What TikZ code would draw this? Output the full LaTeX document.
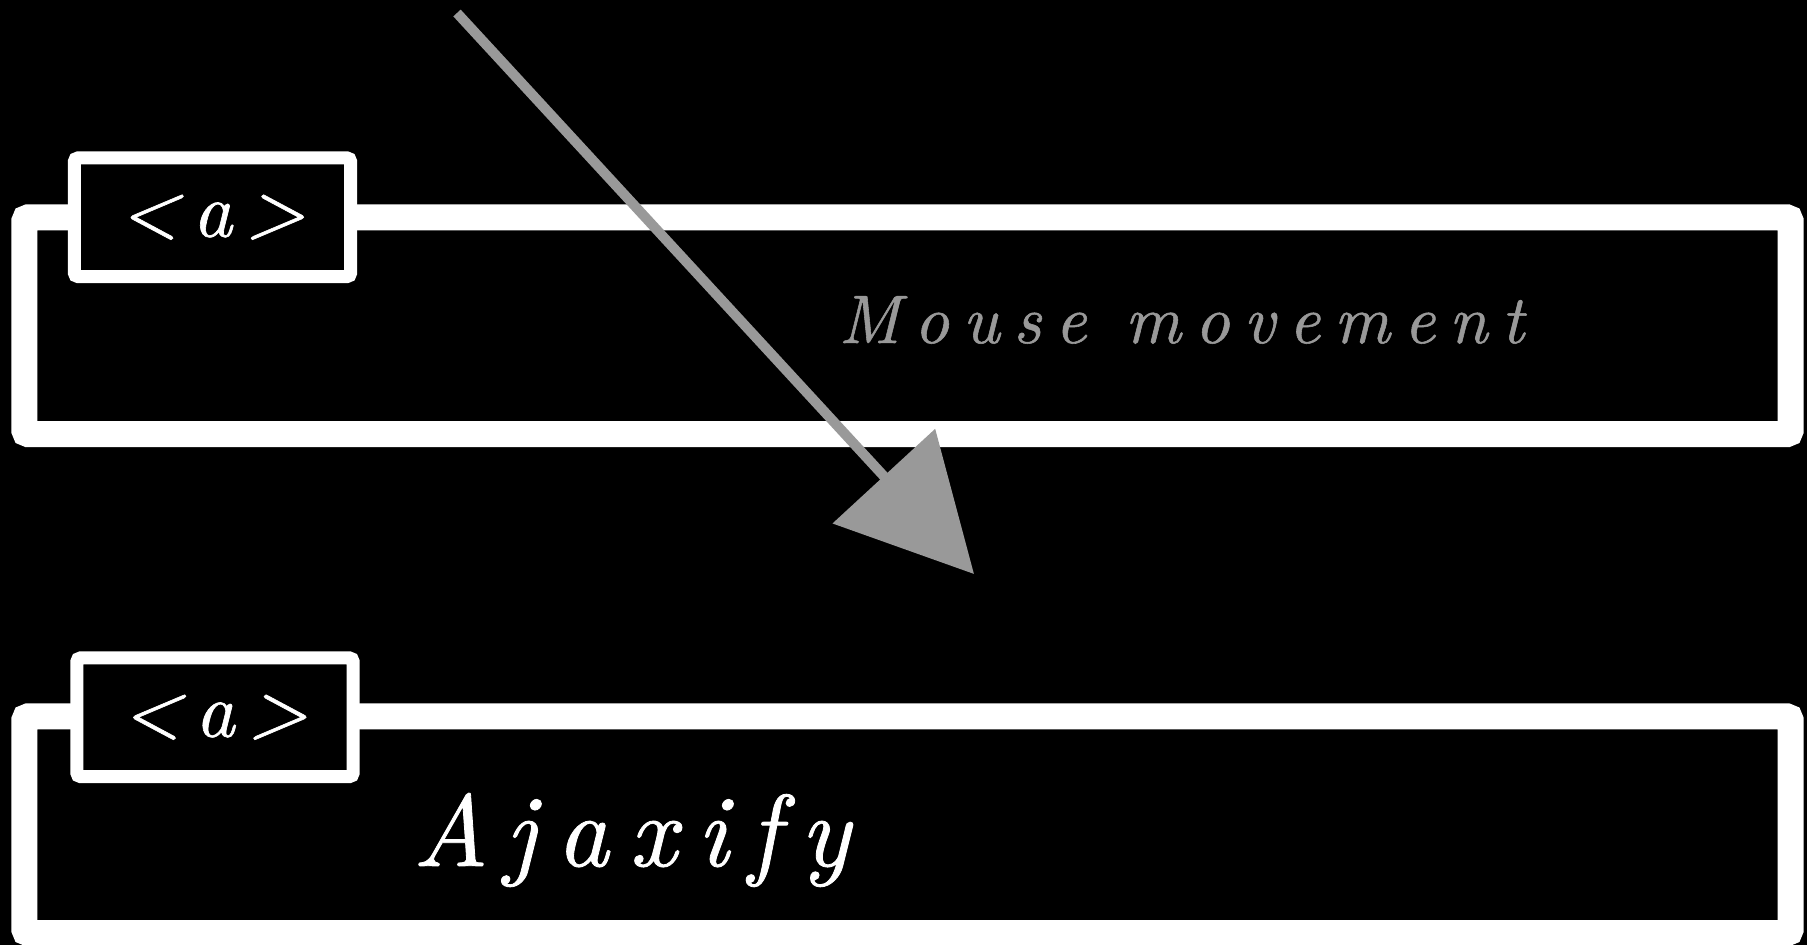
\documentclass[tikz,border=0pt]{standalone}
\usepackage{fontspec}
\usepackage{xcolor}
\usetikzlibrary{arrows.meta}
\newfontfamily\spacedit{lmroman10-italic}[Extension=.otf, LetterSpace=20, FakeBold=0.8]
\newfontfamily\tagit{lmroman10-italic}[Extension=.otf, FakeBold=0.8]
\definecolor{mousegray}{RGB}{153,153,153}
\tikzstyle{panel} = [rectangle, rounded corners=1pt,
minimum width=17.65cm,
minimum height=2.165cm,
inner sep=0pt,
draw=white,
line width=0.26cm]
\tikzstyle{tag} = [rectangle, rounded corners=1pt,
minimum width=2.76cm,
minimum height=1.185cm,
inner sep=0pt,
draw=white,
fill=black,
line width=0.13cm,
text=white,
font=\fontsize{22}{24}\selectfont\tagit]
\tikzstyle{hinttext} = [anchor=base west, inner sep=0pt, text=mousegray,
font=\fontsize{19.5}{21}\selectfont\spacedit]
\tikzstyle{maintext} = [anchor=base west, inner sep=0pt, text=white,
font=\fontsize{29}{31}\selectfont\spacedit]
\tikzstyle{arrow} = [draw=mousegray, line width=0.1cm,
-{Triangle[length=1.33cm, width=1.37cm, fill=mousegray]}]

\begin{document}
\begin{tikzpicture}[x=0.01cm, y=-0.01cm]
\useasboundingbox (0,0) rectangle (1807,945);
\fill[black] (0,0) rectangle (1807,945);

\node (hover) [panel] at (907.5,325.75) {};
\node (click) [panel] at (907.5,824.75) {};
\node (taghover) [tag] at (212.5,217.25) {<\,a\,>};
\node (tagclick) [tag] at (215,717.25) {<\,a\,>};
\node (mouse) [hinttext] at (838,343) {Mouse movement};
\node (ajax) [maintext] at (412,866) {Ajaxify};

% pointer path
\coordinate (from) at (457,13);
\coordinate (to) at (974,574);
\draw [arrow] (from) -- (to);
\end{tikzpicture}
\end{document}
